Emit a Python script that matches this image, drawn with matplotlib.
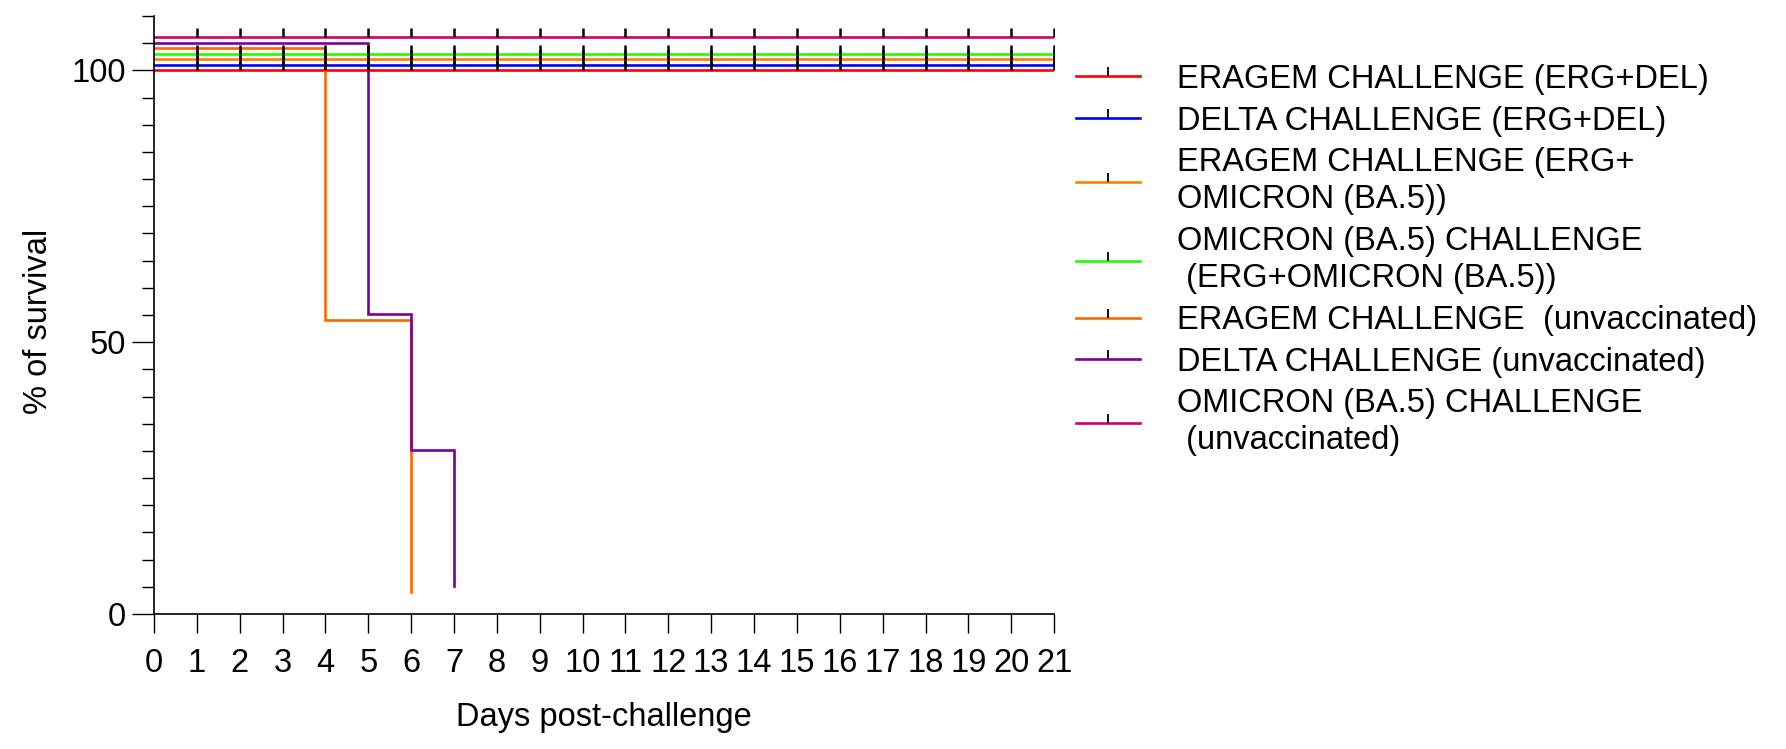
import numpy as np
import matplotlib
matplotlib.use("Agg")
import matplotlib.pyplot as plt
from matplotlib.path import Path
from matplotlib.lines import Line2D

# survival curves (days, % survival)
labels = [
    "ERAGEM CHALLENGE (ERG+DEL)",
    "DELTA CHALLENGE (ERG+DEL)",
    "ERAGEM CHALLENGE (ERG+\nOMICRON (BA.5))",
    "OMICRON (BA.5) CHALLENGE\n (ERG+OMICRON (BA.5))",
    "ERAGEM CHALLENGE  (unvaccinated)",
    "DELTA CHALLENGE (unvaccinated)",
    "OMICRON (BA.5) CHALLENGE\n (unvaccinated)",
]
times = [
    [0, 21],
    [0, 21],
    [0, 21],
    [0, 21],
    [0, 4, 6],
    [0, 5, 6, 7],
    [0, 21],
]
survival = [
    [100, 100],
    [100, 100],
    [100, 100],
    [100, 100],
    [100, 50, 0],
    [100, 50, 25, 0],
    [100, 100],
]
censored = [True, True, True, True, False, False, True]
censor_days = np.arange(1, 22)
colors = ["#FF0000", "#0000FF", "#FF8000", "#22FF00", "#FF6600", "#7B0096", "#CC0066"]
offset_step = 1.02  # Prism-style vertical offset between curves

plt.rcParams["font.family"] = ["Liberation Sans", "DejaVu Sans"]
fs = 23.5

# censor tick: a short line going up from the curve
tick = Path([(0, 0), (0, 1)], [Path.MOVETO, Path.LINETO])

fig = plt.figure(figsize=(17.86, 7.49), dpi=100)
ax = fig.add_axes([0.0862, 0.1802, 0.504, 0.7984])

for i in range(len(labels)):
    off = i * offset_step
    y = np.array(survival[i]) + off
    ax.step(times[i], y, where="post", color=colors[i], lw=1.9,
            solid_joinstyle="miter", zorder=2)
    if censored[i]:
        ax.plot(censor_days, np.full(len(censor_days), survival[i][-1] + off),
                ls="none", marker=tick, ms=12.5, mew=1.8, mec="black", zorder=3)

ax.set_xlim(0, 21)
ax.set_ylim(0, 110)
ax.set_xticks(np.arange(0, 22))
ax.set_yticks([0, 50, 100])
ax.set_yticks([v for v in range(5, 111, 5) if v % 50], minor=True)
ax.tick_params(axis="x", length=13.5, width=1, labelsize=fs, pad=11)
ax.tick_params(axis="y", which="major", length=16, width=1, labelsize=fs, pad=4)
ax.tick_params(axis="y", which="minor", length=8.3, width=1)

for s in ["top", "right"]:
    ax.spines[s].set_visible(False)
for s in ["left", "bottom"]:
    ax.spines[s].set_linewidth(1.2)

ax.set_xlabel("Days post-challenge", fontsize=fs)
ax.xaxis.set_label_coords(0.5, -0.147)
ax.set_ylabel("% of survival", fontsize=fs)
ax.yaxis.set_label_coords(-0.111, 0.49)

handles = [Line2D([0], [0], color=c, lw=1.9, marker=tick, ms=13, mew=1.3, mec="black")
           for c in colors]
leg = ax.legend(handles, labels, loc="upper left", bbox_to_anchor=(1.0244, 0.92),
                frameon=False, prop={"size": fs},
                handlelength=1.96, handletextpad=1.13, labelspacing=0.33,
                borderaxespad=0, borderpad=0)
for t in leg.get_texts():
    t.set_linespacing(1.25)

fig.savefig("out.png", dpi=100)
